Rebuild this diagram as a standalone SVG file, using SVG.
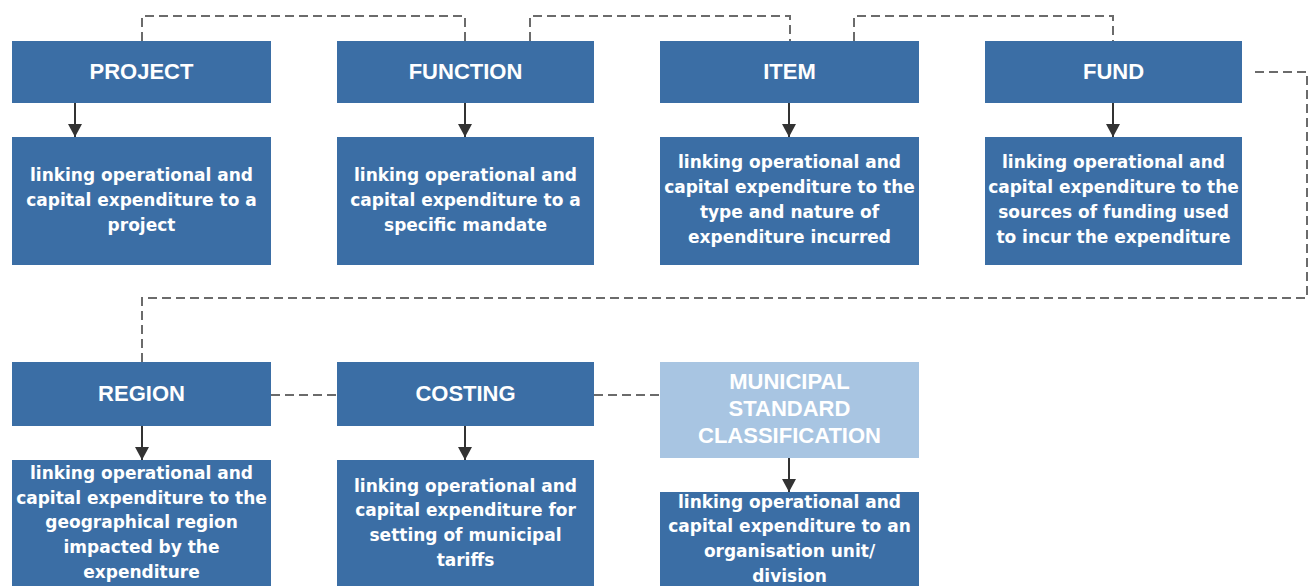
<svg xmlns="http://www.w3.org/2000/svg" width="1315" height="586" viewBox="0 0 1315 586">
<defs>
<style>
.box{fill:#3b6ea5}
.light{fill:#a8c5e2}
.hd{font-family:"Liberation Sans",Arial,sans-serif;font-weight:bold;font-size:22px;fill:#fff;text-anchor:middle}
.tx{font-family:"DejaVu Sans",Verdana,sans-serif;font-weight:bold;font-size:17px;fill:#fff;text-anchor:middle}
.dash{fill:none;stroke:#6b6b6b;stroke-width:2;stroke-dasharray:9 5}
.arr{stroke:#333;stroke-width:2;fill:none}
</style>
<marker id="ah" viewBox="0 0 13 14" refX="13" refY="7" markerWidth="13" markerHeight="14" markerUnits="userSpaceOnUse" orient="auto">
<path d="M0,0 L13,7 L0,14 z" fill="#333"/>
</marker>
</defs>
<rect width="1315" height="586" fill="#fff"/>
<g id="connectors">
<path class="dash" d="M142,41 V16 H465 V41"/>
<path class="dash" d="M530,41 V16 H790 V41"/>
<path class="dash" d="M854,41 V16 H1113 V41"/>
<path class="dash" d="M1255,72 H1307 V298 H142 V362"/>
<path class="dash" d="M271,395 H337"/>
<path class="dash" d="M594,395 H660"/>
<line class="arr" x1="75" y1="103" x2="75" y2="137" marker-end="url(#ah)"/>
<line class="arr" x1="465" y1="103" x2="465" y2="137" marker-end="url(#ah)"/>
<line class="arr" x1="789" y1="103" x2="789" y2="137" marker-end="url(#ah)"/>
<line class="arr" x1="1113" y1="103" x2="1113" y2="137" marker-end="url(#ah)"/>
<line class="arr" x1="142" y1="426" x2="142" y2="460" marker-end="url(#ah)"/>
<line class="arr" x1="465" y1="426" x2="465" y2="460" marker-end="url(#ah)"/>
<line class="arr" x1="789" y1="458" x2="789" y2="492" marker-end="url(#ah)"/>
</g>
<g id="project">
<rect class="box" x="12" y="41" width="259" height="62"/>
<text class="hd" x="141.5" y="79">PROJECT</text>
</g>
<g id="project-desc">
<rect class="box" x="12" y="137" width="259" height="128"/>
<text class="tx" x="141.5" y="181">linking operational and</text>
<text class="tx" x="141.5" y="206">capital expenditure to a</text>
<text class="tx" x="141.5" y="231">project</text>
</g>
<g id="function">
<rect class="box" x="337" y="41" width="257" height="62"/>
<text class="hd" x="465.5" y="79">FUNCTION</text>
</g>
<g id="function-desc">
<rect class="box" x="337" y="137" width="257" height="128"/>
<text class="tx" x="465.5" y="181">linking operational and</text>
<text class="tx" x="465.5" y="206">capital expenditure to a</text>
<text class="tx" x="465.5" y="231">specific mandate</text>
</g>
<g id="item">
<rect class="box" x="660" y="41" width="259" height="62"/>
<text class="hd" x="789.5" y="79">ITEM</text>
</g>
<g id="item-desc">
<rect class="box" x="660" y="137" width="259" height="128"/>
<text class="tx" x="789.5" y="168">linking operational and</text>
<text class="tx" x="789.5" y="193">capital expenditure to the</text>
<text class="tx" x="789.5" y="218">type and nature of</text>
<text class="tx" x="789.5" y="243">expenditure incurred</text>
</g>
<g id="fund">
<rect class="box" x="985" y="41" width="257" height="62"/>
<text class="hd" x="1113.5" y="79">FUND</text>
</g>
<g id="fund-desc">
<rect class="box" x="985" y="137" width="257" height="128"/>
<text class="tx" x="1113.5" y="168">linking operational and</text>
<text class="tx" x="1113.5" y="193">capital expenditure to the</text>
<text class="tx" x="1113.5" y="218">sources of funding used</text>
<text class="tx" x="1113.5" y="243">to incur the expenditure</text>
</g>
<g id="region">
<rect class="box" x="12" y="362" width="259" height="64"/>
<text class="hd" x="141.5" y="401">REGION</text>
</g>
<g id="region-desc">
<rect class="box" x="12" y="460" width="259" height="130"/>
<text class="tx" x="141.5" y="479">linking operational and</text>
<text class="tx" x="141.5" y="504">capital expenditure to the</text>
<text class="tx" x="141.5" y="528">geographical region</text>
<text class="tx" x="141.5" y="553">impacted by the</text>
<text class="tx" x="141.5" y="578">expenditure</text>
</g>
<g id="costing">
<rect class="box" x="337" y="362" width="257" height="64"/>
<text class="hd" x="465.5" y="401">COSTING</text>
</g>
<g id="costing-desc">
<rect class="box" x="337" y="460" width="257" height="130"/>
<text class="tx" x="465.5" y="492">linking operational and</text>
<text class="tx" x="465.5" y="516">capital expenditure for</text>
<text class="tx" x="465.5" y="541">setting of municipal</text>
<text class="tx" x="465.5" y="566">tariffs</text>
</g>
<g id="msc">
<rect class="light" x="660" y="362" width="259" height="96"/>
<text class="hd" x="789.5" y="389">MUNICIPAL</text>
<text class="hd" x="789.5" y="416">STANDARD</text>
<text class="hd" x="789.5" y="443">CLASSIFICATION</text>
</g>
<g id="msc-desc">
<rect class="box" x="660" y="492" width="259" height="98"/>
<text class="tx" x="789.5" y="508">linking operational and</text>
<text class="tx" x="789.5" y="532">capital expenditure to an</text>
<text class="tx" x="789.5" y="557">organisation unit/</text>
<text class="tx" x="789.5" y="582">division</text>
</g>
</svg>
